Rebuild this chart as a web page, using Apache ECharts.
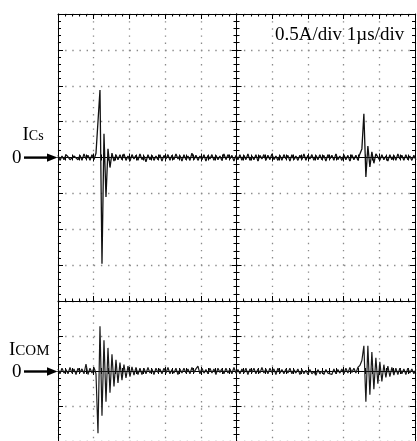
<!DOCTYPE html>
<html><head><meta charset="utf-8">
<script src="https://cdn.jsdelivr.net/npm/echarts@6/dist/echarts.min.js"></script>
<style>html,body{margin:0;padding:0;background:#fff}#c{width:417px;height:441px}</style>
</head><body><div id="c"></div>
<script>
// ---- data ----
const sampleStepUs = 0.056;            // one sample every 0.056 µs
const timeRangeUs = [0, 10];           // 10 div x 1 µs/div
const icsRangeA = [-2, 2];             // 8 div x 0.5 A/div
const icomRangeA = [-1, 1];            // 4 div x 0.5 A/div
const divA = 0.5;
const scaleText = '0.5A/div 1\u00B5s/div';

const icsValues = [
  0.03,-0.04,0.02,-0.03,0.04,0.01,-0.03,-0.05,0.02,0.04,-0.03,0.03,-0.04,0.05,-0.02,0.03,-0.04,0.04,-0.03,0.06,
  0.06,0.94,-1.48,0.33,-0.55,0.12,-0.14,0.06,-0.05,
  0.04,-0.03,0.04,-0.03,0.05,-0.04,0.02,-0.05,0.04,-0.02,0.03,-0.04,0.05,-0.03,0.02,-0.06,0.04,-0.03,0.03,-0.04,0.02,-0.03,
  0.04,-0.05,0.03,-0.02,0.04,-0.04,0.03,-0.03,0.05,-0.02,0.03,-0.05,0.04,-0.03,0.02,-0.04,0.06,-0.03,0.03,-0.04,
  0.02,-0.03,0.04,-0.05,0.03,-0.02,0.04,-0.04,0.03,-0.03,0.02,-0.04,0.05,-0.03,0.04,-0.02,0.03,-0.05,0.03,-0.03,
  0.04,-0.04,0.03,-0.03,0.05,-0.04,0.02,-0.03,0.04,-0.05,0.03,-0.02,0.04,-0.04,0.03,-0.03,0.05,-0.03,0.02,-0.04,
  0.03,-0.04,0.04,-0.02,0.03,-0.05,0.04,-0.03,0.02,-0.04,0.03,-0.03,0.05,-0.04,0.03,-0.02,0.04,-0.04,0.03,-0.03,
  0.04,-0.03,0.03,-0.05,0.04,-0.02,0.03,-0.04,0.05,-0.03,0.02,-0.04,0.04,-0.03,0.03,-0.05,0.04,-0.03,0.03,-0.04,0.05,
  0.12,0.61,-0.27,0.16,-0.13,0.08,-0.08,0.05,
  0.03,-0.04,0.04,-0.03,0.02,-0.05,0.04,-0.03,0.03,-0.04,0.05,-0.02,0.03,-0.04,0.04,-0.03,0.02,-0.04,0.03,-0.03
];

const icomValues = [
  0.03,-0.04,0.04,-0.03,0.02,-0.04,0.05,-0.03,0.03,-0.05,0.04,-0.02,0.03,-0.04,
  0.10,-0.05,0.04,-0.03,0.05,-0.04,
  -0.89,0.64,-0.64,0.44,-0.44,0.33,-0.31,0.24,-0.22,0.16,-0.17,0.12,-0.13,0.09,-0.10,0.07,-0.08,0.06,-0.06,0.05,-0.05,0.04,-0.05,
  0.04,-0.04,0.05,-0.03,0.03,-0.05,0.04,-0.02,0.03,-0.04,0.04,-0.03,0.05,-0.04,0.02,-0.03,0.04,-0.05,0.03,-0.03,
  0.04,-0.03,0.03,-0.04,0.05,-0.02,0.03,0.07,-0.04,0.04,-0.03,0.02,-0.04,0.04,-0.03,0.03,-0.05,0.04,-0.02,0.03,
  -0.04,0.04,-0.03,0.03,-0.04,0.05,-0.03,0.02,-0.04,0.03,-0.03,0.04,-0.05,0.03,-0.02,0.04,-0.04,0.03,-0.03,0.05,
  -0.03,0.03,-0.04,0.04,-0.02,0.03,-0.05,0.04,-0.03,0.02,-0.04,0.03,-0.03,0.04,-0.04,0.02,-0.03,0.03,-0.05,0.02,
  -0.04,0.01,-0.05,0.02,-0.04,-0.01,-0.06,0.02,-0.04,0.00,-0.05,0.02,-0.03,-0.01,-0.05,0.03,-0.04,0.02,-0.03,0.03,
  -0.04,0.04,-0.03,0.05,-0.02,0.04,-0.03,0.05,
  0.08,0.15,0.36,-0.44,0.36,-0.34,0.27,-0.26,0.19,-0.18,0.13,-0.15,0.09,-0.09,0.07,-0.08,0.05,-0.06,0.04,-0.05,
  0.04,-0.04,0.03,-0.05,0.04,-0.03,0.03,-0.04,0.02
];

// ---- chart ----
const chart = echarts.init(document.getElementById('c'), null, {renderer: 'canvas'});
const BLACK = '#000';
const DOT = {color: '#8a8a8a', width: 1.3, type: [1.4, 5.75]};
const FONT = '"Liberation Serif", "Times New Roman", serif';
const xAxis = [], yAxis = [];

function tickSet(inside, len, minorLen) {
  return {
    axisTick: {show: true, inside: inside, length: len, lineStyle: {color: BLACK, width: 1}},
    minorTick: {show: true, splitNumber: 5, length: minorLen, lineStyle: {color: BLACK, width: 1}}
  };
}
function addX(o) { xAxis.push(Object.assign({type: 'value', axisLabel: {show: false}, splitLine: {show: false}}, o)); return xAxis.length - 1; }
function addY(o) { yAxis.push(Object.assign({type: 'value', axisLabel: {show: false}, splitLine: {show: false}}, o)); return yAxis.length - 1; }

function buildPanel(g, yRange, withTop, withBottom) {
  const xr = {gridIndex: g, min: timeRangeUs[0], max: timeRangeUs[1], interval: 1};
  const yr = {gridIndex: g, min: yRange[0], max: yRange[1], interval: divA};
  const line = (onZero, extra) => Object.assign({show: true, onZero: onZero, lineStyle: {color: BLACK, width: 1}}, extra || {});
  const bottomTicks = withBottom ? tickSet(true, 5, 2.5) : {axisTick: {show: false}, minorTick: {show: false}};
  const xMain = addX(Object.assign({position: 'bottom', axisLine: withBottom ? line(false) : {show: false, onZero: false},
    splitLine: {show: true, lineStyle: DOT}}, xr, bottomTicks));
  if (withTop) addX(Object.assign({position: 'top', axisLine: line(false)}, xr, tickSet(true, 5, 2.5)));
  const yMain = addY(Object.assign({position: 'left', axisLine: line(false), splitLine: {show: true, lineStyle: DOT}}, yr, tickSet(true, 5, 3)));
  addY(Object.assign({position: 'right', axisLine: line(false)}, yr, tickSet(true, 5, 3)));
  // helper axis centred on the screen, used to place the vertical centre line
  const xCenter = addX({gridIndex: g, min: -5, max: 5, show: false, axisLine: {onZero: false}});
  // centre horizontal line (at 0 A) with cross ticks
  addX(Object.assign({position: 'bottom', axisLine: line(true, {onZeroAxisIndex: yMain})}, xr, tickSet(true, 4, 3)));
  addX(Object.assign({position: 'bottom', axisLine: line(true, {onZeroAxisIndex: yMain})}, xr, tickSet(false, 4, 3)));
  // centre vertical line with cross ticks
  addY(Object.assign({position: 'left', axisLine: line(true, {onZeroAxisIndex: xCenter})}, yr, tickSet(true, 5, 3)));
  addY(Object.assign({position: 'left', axisLine: line(true, {onZeroAxisIndex: xCenter})}, yr, tickSet(false, 5, 3)));
  return {x: xMain, y: yMain};
}

const p1 = buildPanel(0, icsRangeA, true, true);
const p2 = buildPanel(1, icomRangeA, false, false);

const toPairs = vals => vals.map((v, i) => [i * sampleStepUs, v]);

function serif(text, x, y, size, align, va) {
  return {type: 'text', z: 100, style: {text: text, x: x, y: y, font: size + 'px ' + FONT, fill: BLACK, align: align || 'left', verticalAlign: va || 'bottom'}};
}
function arrow(y) {
  return [
    {type: 'line', z: 100, shape: {x1: 24, y1: y, x2: 49, y2: y}, style: {stroke: BLACK, lineWidth: 2.4}},
    {type: 'polygon', z: 100, shape: {points: [[47, y - 4.2], [57.5, y], [47, y + 4.2]]}, style: {fill: BLACK}}
  ];
}

chart.setOption({
  animation: false,
  backgroundColor: '#fff',
  grid: [
    {left: 58, top: 14, width: 357, height: 287},
    {left: 58, top: 301, width: 357, height: 143.5}
  ],
  xAxis: xAxis,
  yAxis: yAxis,
  series: [
    {type: 'line', xAxisIndex: p1.x, yAxisIndex: p1.y, data: toPairs(icsValues), showSymbol: false, symbol: 'none',
     lineStyle: {color: '#111', width: 1.3}, z: 10},
    {type: 'line', xAxisIndex: p2.x, yAxisIndex: p2.y, data: toPairs(icomValues), showSymbol: false, symbol: 'none',
     lineStyle: {color: '#1a1a1a', width: 1.2}, z: 10}
  ],
  graphic: {elements: [
    serif(scaleText, 275, 35.5, 19, 'left', 'middle'),
    serif('I', 22.5, 144.1, 19),
    serif('Cs', 28.8, 143, 14),
    serif('0', 12, 158, 19, 'left', 'middle'),
    ...arrow(157.6),
    serif('I', 9, 359.1, 19),
    serif('COM', 15.3, 358.2, 15),
    serif('0', 12, 372, 19, 'left', 'middle'),
    ...arrow(371.5)
  ]}
});
</script>
</body></html>
